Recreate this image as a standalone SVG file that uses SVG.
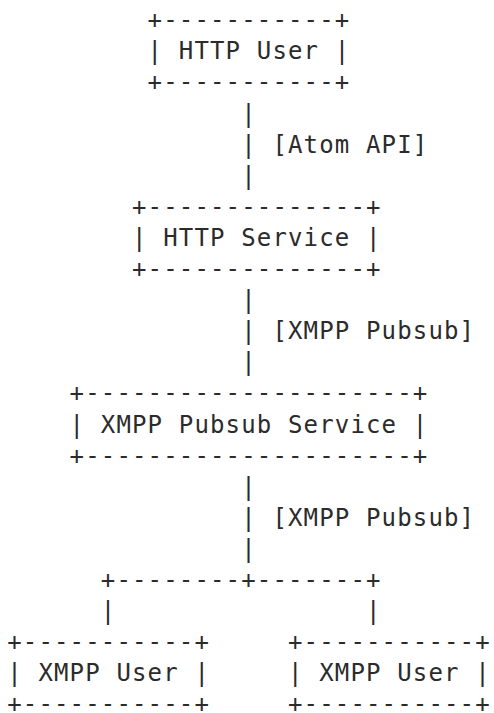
<svg xmlns="http://www.w3.org/2000/svg" width="494" height="713" viewBox="0 0 494 713">
<style>
text { font-family: "DejaVu Sans Mono", "Liberation Mono", monospace; font-size: 24px; letter-spacing: 1.15px; fill: #2b2b2b; white-space: pre; }
</style>
<rect width="494" height="713" fill="#ffffff"/>
<g id="http-user">
<text x="147.6" y="28.2" xml:space="preserve">+-----------+</text>
<text x="147.6" y="59.3" xml:space="preserve">| HTTP User |</text>
<text x="147.6" y="90.4" xml:space="preserve">+-----------+</text>
</g>
<g id="http-service">
<text x="132" y="214.8" xml:space="preserve">+--------------+</text>
<text x="132" y="245.9" xml:space="preserve">| HTTP Service |</text>
<text x="132" y="277" xml:space="preserve">+--------------+</text>
</g>
<g id="xmpp-pubsub-service">
<text x="69.6" y="401.4" xml:space="preserve">+---------------------+</text>
<text x="69.6" y="432.5" xml:space="preserve">| XMPP Pubsub Service |</text>
<text x="69.6" y="463.6" xml:space="preserve">+---------------------+</text>
</g>
<g id="xmpp-user-1">
<text x="7.2" y="650.2" xml:space="preserve">+-----------+</text>
<text x="7.2" y="681.3" xml:space="preserve">| XMPP User |</text>
<text x="7.2" y="712" xml:space="preserve">+-----------+</text>
</g>
<g id="xmpp-user-2">
<text x="288" y="650.2" xml:space="preserve">+-----------+</text>
<text x="288" y="681.3" xml:space="preserve">| XMPP User |</text>
<text x="288" y="712" xml:space="preserve">+-----------+</text>
</g>
<g id="connectors">
<text x="241.2" y="121.5" xml:space="preserve">|</text>
<text x="241.2" y="152.6" xml:space="preserve">| [Atom API]</text>
<text x="241.2" y="183.7" xml:space="preserve">|</text>
<text x="241.2" y="308.1" xml:space="preserve">|</text>
<text x="241.2" y="339.2" xml:space="preserve">| [XMPP Pubsub]</text>
<text x="241.2" y="370.3" xml:space="preserve">|</text>
<text x="241.2" y="494.7" xml:space="preserve">|</text>
<text x="241.2" y="525.8" xml:space="preserve">| [XMPP Pubsub]</text>
<text x="241.2" y="556.9" xml:space="preserve">|</text>
<text x="100.8" y="588" xml:space="preserve">+--------+-------+</text>
<text x="100.8" y="619.1" xml:space="preserve">|</text>
<text x="366" y="619.1" xml:space="preserve">|</text>
</g>
</svg>
